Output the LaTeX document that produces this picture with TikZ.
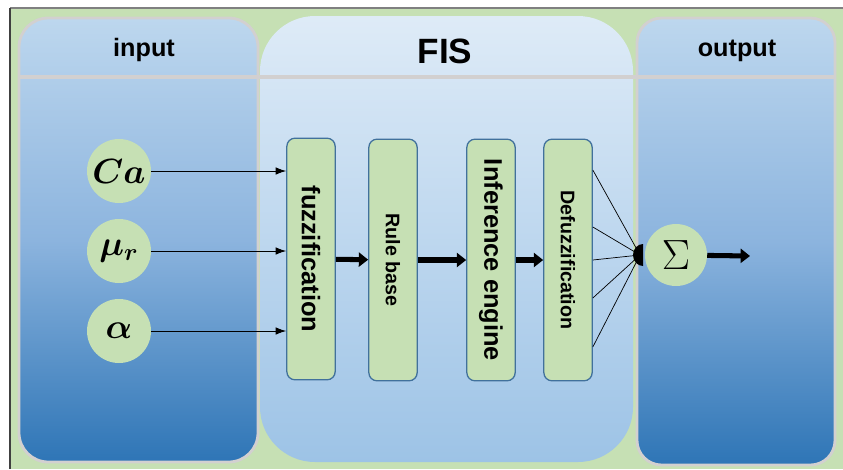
\documentclass[tikz,border=0pt]{standalone}
\usepackage{amsmath}
\usepackage{fontspec}
\setsansfont{Liberation Sans}
\usepackage{tikz}
\usetikzlibrary{arrows.meta, calc, shapes}

\definecolor{leaf}{RGB}{198,224,180}
\definecolor{skytop}{RGB}{189,215,238}
\definecolor{skymid}{RGB}{140,180,222}
\definecolor{skybot}{RGB}{46,117,182}
\definecolor{fistop}{RGB}{222,235,247}
\definecolor{fisbot}{RGB}{157,195,230}
\definecolor{rim}{RGB}{210,208,208}
\definecolor{edge}{RGB}{65,113,156}

% math inside the circles, a little larger than \Huge allows
\newcommand{\bigsym}[2]{\scalebox{#1}{$#2$}}

\tikzset{
  panel/.style={draw=rim, line width=2.4pt, top color=skytop, bottom color=skybot, middle color=skymid},
  head/.style={anchor=base, font=\sffamily\bfseries\fontsize{21.5}{24}\selectfont},
  block/.style={draw=edge, line width=1.1pt, fill=leaf, rounded corners=7pt,
    minimum width=1.45cm, minimum height=7.25cm, inner sep=0pt},
  bigtext/.style={font=\sffamily\bfseries\fontsize{21.7}{24}\selectfont},
  smalltext/.style={font=\sffamily\bfseries\fontsize{16.8}{19}\selectfont},
  var/.style={circle, fill=leaf, minimum size=1.92cm, inner sep=0pt, font=\fontsize{24}{28}\selectfont},
  feed/.style={-{Latex[length=9pt,width=6.5pt]}, line width=0.8pt},
  flow/.style={-{Triangle[length=8pt,width=12pt]}, line width=4.3pt},
  fan/.style={line width=0.6pt}
}

\begin{document}
\begin{tikzpicture}[x=0.03cm, y=-0.03cm]
  \useasboundingbox (0,0) rectangle (843,469);
  % frame and green ground
  \fill[leaf] (10,8) rectangle (843,469);
  \draw[gray, line width=1.6pt] (10,8) -- (843,8);
  \draw[black!75, line width=1.2pt] (10,8) -- (10,469);

  % the three columns
  \shade[panel, rounded corners=25pt] (19,18) rectangle (258,462);
  \shade[top color=fistop, bottom color=fisbot, rounded corners=47pt] (260,16) rectangle (633,462);
  \shade[panel, rounded corners=21pt] (637,18) rectangle (835,465);
  \draw[rim, line width=3.2pt] (19,77) -- (835,77);

  \node[head] (inlabel) at (144,56) {input};
  \node[head, font=\sffamily\bfseries\fontsize{30}{34}\selectfont] (fislabel) at (445,63) {FIS};
  \node[head] (outlabel) at (737,56) {output};

  % inputs
  \node[var] (ca) at (119,171) {\bigsym{1.2}{\boldsymbol{Ca}}};
  \node[var] (mur) at (119,251) {\bigsym{1.2}{\boldsymbol{\mu_r}}};
  \node[var] (alpha) at (119,331) {\bigsym{1.2}{\boldsymbol{\alpha}}};

  % FIS stages
  \node[block, bigtext] (fuzz) at (311,259) {\rotatebox{-90}{fuzzification}};
  \node[block, smalltext] (rules) at (393,260) {\rotatebox{-90}{Rule base}};
  \node[block, bigtext] (infer) at (491,260) {\rotatebox{-90}{Inference engine}};
  \node[block, smalltext] (defuzz) at (568,260) {\rotatebox{-90}{Defuzzification}};

  \draw[feed] (ca) -- (ca -| fuzz.west);
  \draw[feed] (mur) -- (mur -| fuzz.west);
  \draw[feed] (alpha) -- (alpha -| fuzz.west);

  \draw[flow] (fuzz) -- (rules);
  \draw[flow] (rules) -- (infer);
  \draw[flow] (infer) -- (defuzz);

  % crisp outputs gathered into the sum
  \coordinate (join) at (640,255);
  \foreach \dy in {-90,-33,0,38,87}
    \draw[fan] ($(defuzz.east)+(0,\dy)$) -- (join);
  \fill (643,244) arc[start angle=270, end angle=90, x radius=10, y radius=11] -- cycle;

  \node[var, minimum size=1.86cm] (sum) at (676,255) {\bigsym{1.45}{\Sigma}};
  \coordinate (result) at (750,256);
  \draw[flow] (sum) -- (result);
\end{tikzpicture}
\end{document}
